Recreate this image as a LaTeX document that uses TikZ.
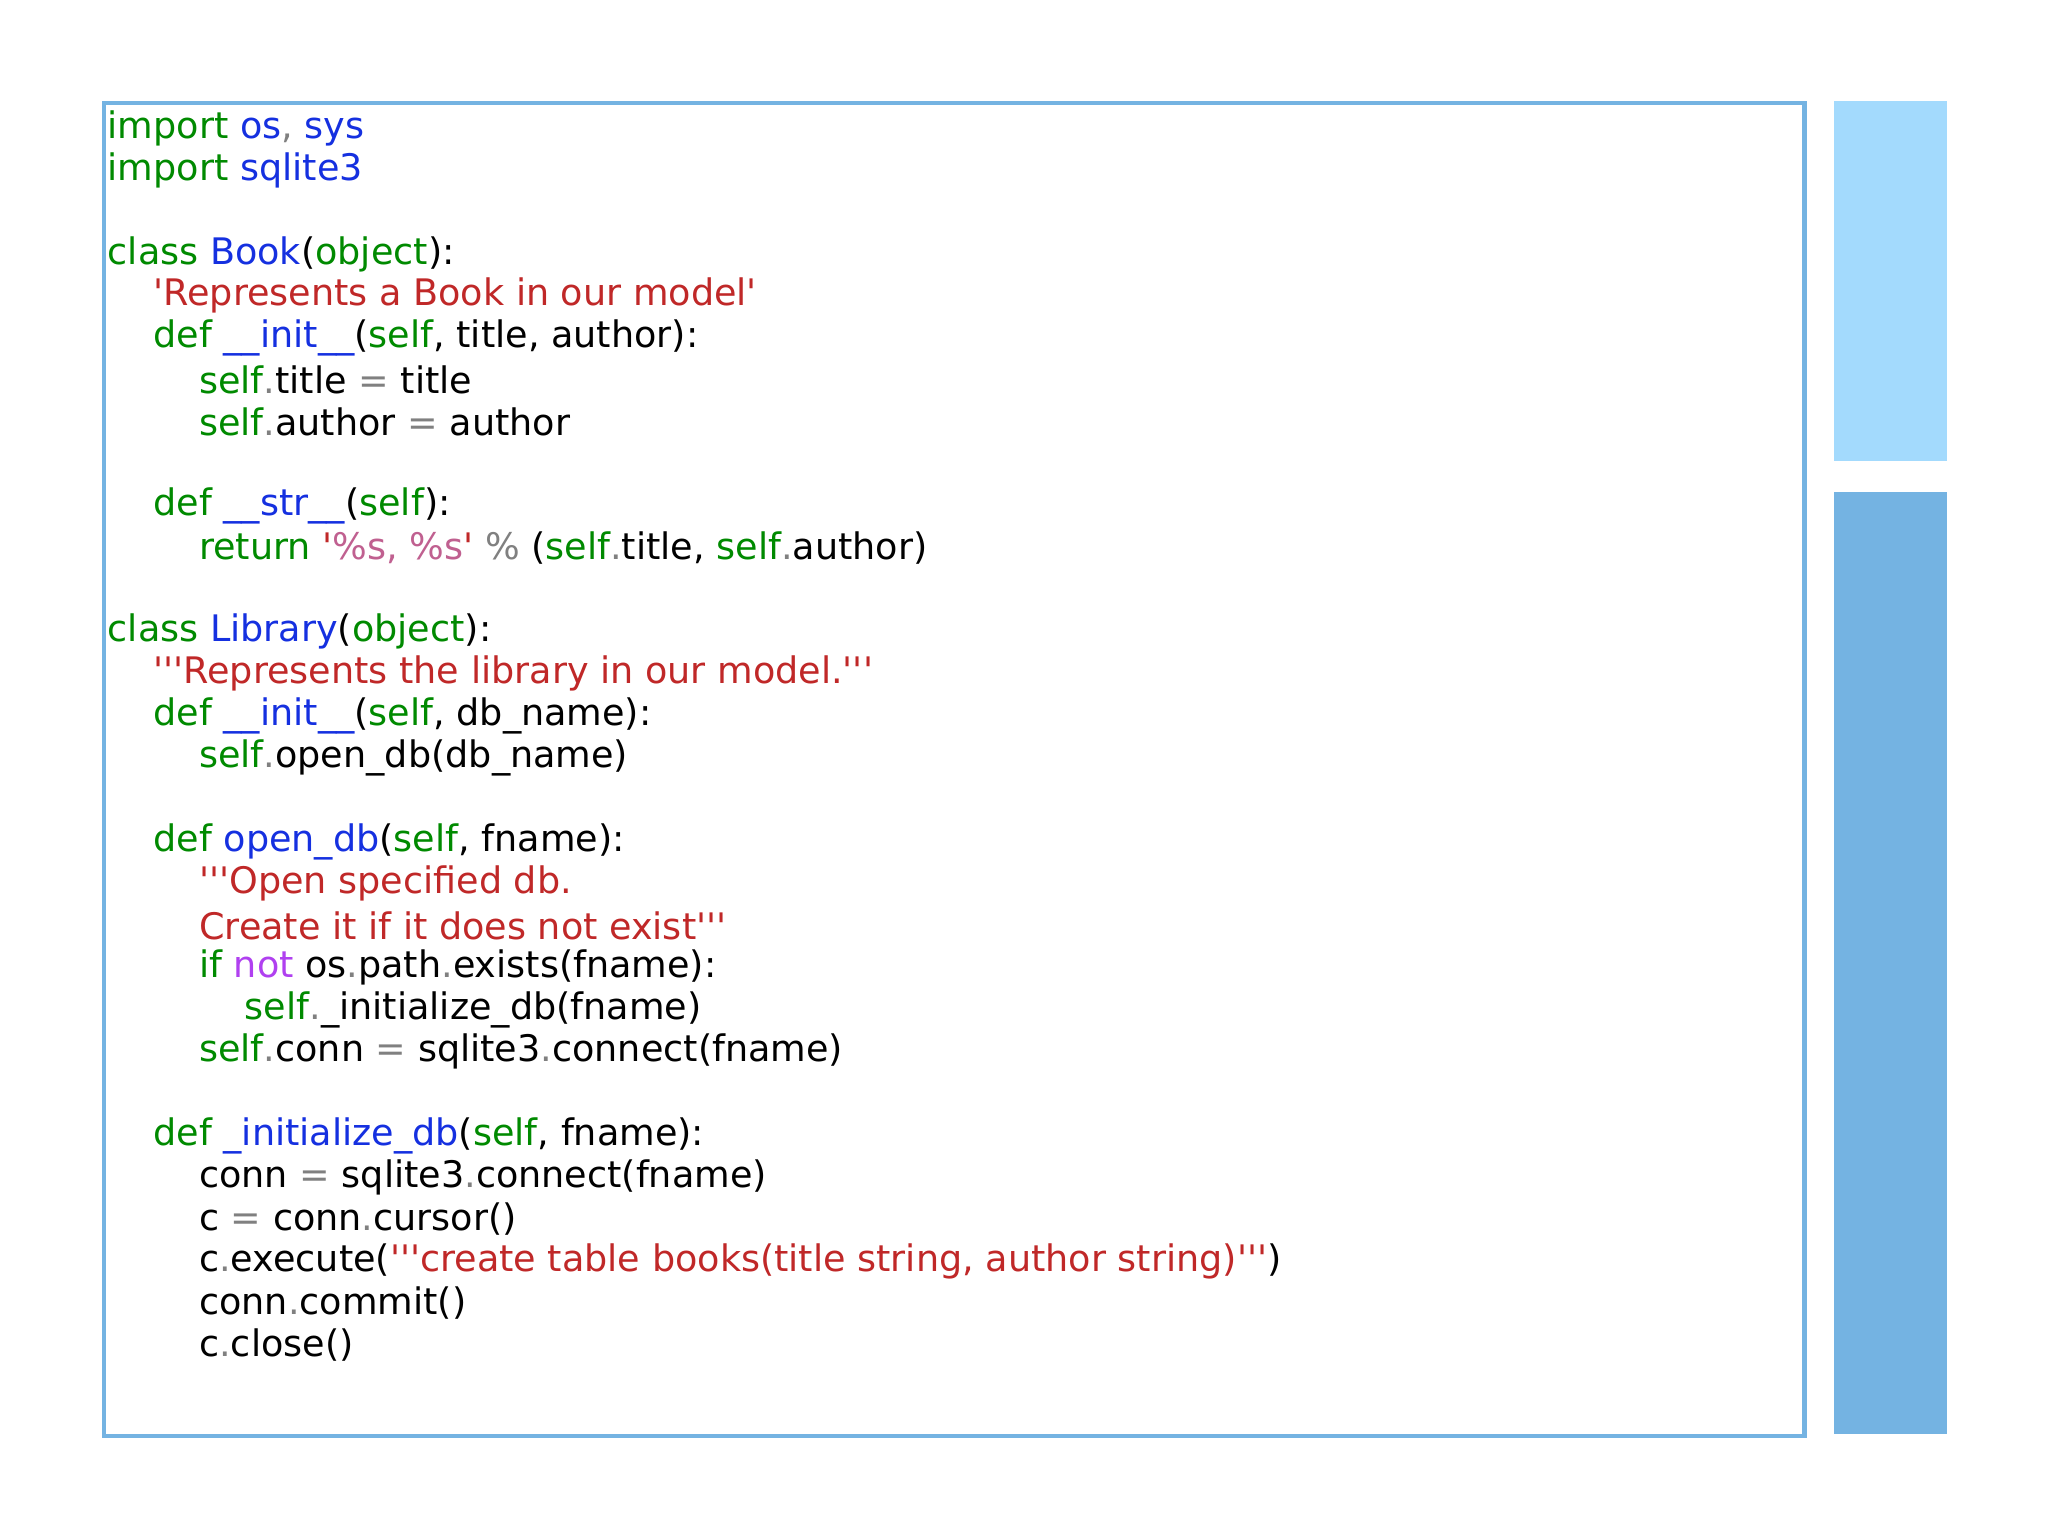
\documentclass[tikz,border=0pt]{standalone}
\usepackage{fontspec}
\newfontfamily\code{DejaVu Sans}
\definecolor{kg}{HTML}{008A00}
\definecolor{kb}{HTML}{1530E0}
\definecolor{kr}{HTML}{C02828}
\definecolor{kp}{HTML}{C06090}
\definecolor{kv}{HTML}{B040F0}
\definecolor{ky}{HTML}{808080}
\definecolor{bord}{HTML}{74B3E2}
\definecolor{lbar}{HTML}{A3DAFD}
\definecolor{dbar}{HTML}{74B3E2}
\newcommand{\cG}[1]{\textcolor{kg}{#1}}
\newcommand{\cB}[1]{\textcolor{kb}{#1}}
\newcommand{\cR}[1]{\textcolor{kr}{#1}}
\newcommand{\cP}[1]{\textcolor{kp}{#1}}
\newcommand{\cV}[1]{\textcolor{kv}{#1}}
\newcommand{\cY}[1]{\textcolor{ky}{#1}}
\tikzset{cl/.style={anchor=west,inner sep=0pt,font=\code\fontsize{10.4}{12}\selectfont}}
\begin{document}
\begin{tikzpicture}[x=0.013061cm,y=-0.013061cm]
\useasboundingbox (0,0) rectangle (1568,1176);
\fill[white] (0,0) rectangle (1568,1176);
\node[draw=bord,line width=1.2pt,inner sep=0pt,minimum width=1302*0.013061cm,minimum height=1021*0.013061cm,anchor=north west] (box) at (78,77) {};
\fill[lbar] (1404,77) rectangle (1491,353);
\fill[dbar] (1404,377) rectangle (1491,1098);
\def\dy{32.14}
\def\LL#1#2#3{\node[cl] (l#1) at ({82+35*#2},{98+\dy*(#1-1)}) {#3};}
\LL{1}{0}{\cG{import} \cB{os}\cY{,} \cB{sys}}
\LL{2}{0}{\cG{import} \cB{sqlite3}}
\LL{4}{0}{\cG{class} \cB{Book}(\cG{object}):}
\LL{5}{1}{\cR{'Represents a Book in our model'}}
\LL{6}{1}{\cG{def} \cB{\_\_init\_\_}(\cG{self}, title, author):}
\LL{7}{2}{\cG{self}\cY{.}title \cY{=} title}
\LL{8}{2}{\cG{self}\cY{.}author \cY{=} author}
\LL{10}{1}{\cG{def} \cB{\_\_str\_\_}(\cG{self}):}
\LL{11}{2}{\cG{return} \cR{'}\cP{\%s, \%s}\cR{'} \cY{\%} (\cG{self}\cY{.}title, \cG{self}\cY{.}author)}
\LL{13}{0}{\cG{class} \cB{Library}(\cG{object}):}
\LL{14}{1}{\cR{'''Represents the library in our model.'''}}
\LL{15}{1}{\cG{def} \cB{\_\_init\_\_}(\cG{self}, db\_name):}
\LL{16}{2}{\cG{self}\cY{.}open\_db(db\_name)}
\LL{18}{1}{\cG{def} \cB{open\_db}(\cG{self}, fname):}
\LL{19}{2}{\cR{'''Open specified db.}}
\LL{20}{2}{\cR{Create it if it does not exist'''}}
\LL{21}{2}{\cG{if} \cV{not} os\cY{.}path\cY{.}exists(fname):}
\LL{22}{3}{\cG{self}\cY{.}\_initialize\_db(fname)}
\LL{23}{2}{\cG{self}\cY{.}conn \cY{=} sqlite3\cY{.}connect(fname)}
\LL{25}{1}{\cG{def} \cB{\_initialize\_db}(\cG{self}, fname):}
\LL{26}{2}{conn \cY{=} sqlite3\cY{.}connect(fname)}
\LL{27}{2}{c \cY{=} conn\cY{.}cursor()}
\LL{28}{2}{c\cY{.}execute(\cR{'''create table books(title string, author string)'''})}
\LL{29}{2}{conn\cY{.}commit()}
\LL{30}{2}{c\cY{.}close()}
\end{tikzpicture}
\end{document}
